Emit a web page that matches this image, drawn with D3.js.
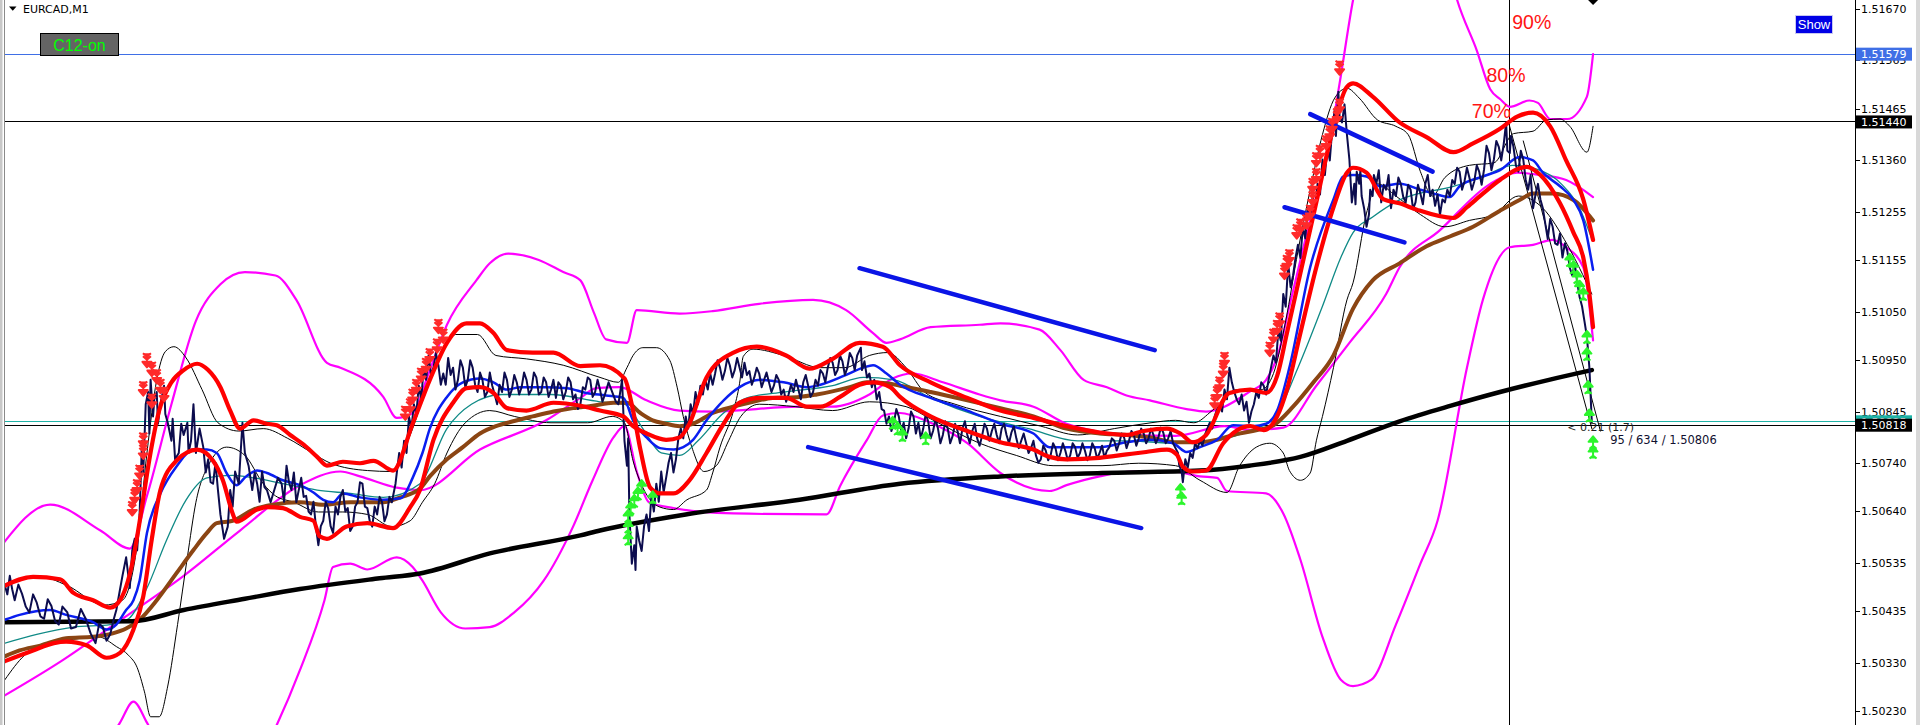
<!DOCTYPE html>
<html><head><meta charset="utf-8">
<script src="https://cdn.jsdelivr.net/npm/d3@7"></script>
<style>html,body{margin:0;padding:0;background:#fff;overflow:hidden}</style>
</head><body>
<svg id="c" width="1920" height="725"></svg>
<script>
// ---------------- DATA ----------------
const symbolTitle = "EURCAD,M1";
const yTickLabels = ["1.51670","1.51565","1.51465","1.51360","1.51255","1.51155","1.51050","1.50950","1.50845","1.50740","1.50640","1.50535","1.50435","1.50330","1.50230"];

// bars: [barIndex, price]
const priceSeries = [[4,1.50488],[6,1.50470],[8,1.50508],[10,1.50480],[12,1.50458],[15,1.50490],[18,1.50471],[21,1.50445],[24,1.50433],[27,1.50470],[30,1.50453],[33,1.50425],[36,1.50420],[39,1.50460],[42,1.50446],[45,1.50415],[48,1.50408],[51,1.50445],[55,1.50433],[58,1.50400],[62,1.50403],[66,1.50440],[70,1.50420],[74,1.50390],[78,1.50370],[81,1.50410],[84,1.50403],[87,1.50375],[90,1.50388],[93,1.50420],[95,1.50438],[98,1.50480],[100,1.50508],[103,1.50546],[106,1.50483],[108,1.50560],[110,1.50584],[112,1.50560],[114,1.50634],[116,1.50785],[117,1.50720],[119,1.50860],[121,1.50885],[122,1.50800],[123,1.50910],[125,1.50835],[126,1.50870],[128,1.50885],[129,1.50820],[131,1.50860],[134,1.50898],[135,1.50840],[137,1.50822],[140,1.50785],[141,1.50830],[143,1.50747],[146,1.50760],[148,1.50820],[150,1.50797],[153,1.50822],[154,1.50760],[156,1.50785],[158,1.50860],[160,1.50760],[163,1.50810],[166,1.50772],[168,1.50720],[170,1.50747],[172,1.50700],[174,1.50697],[176,1.50740],[178,1.50684],[180,1.50634],[183,1.50584],[186,1.50609],[188,1.50684],[190,1.50650],[192,1.50722],[195,1.50697],[198,1.50822],[200,1.50760],[203,1.50734],[206,1.50684],[208,1.50720],[210,1.50697],[212,1.50660],[214,1.50722],[216,1.50690],[218,1.50684],[221,1.50659],[224,1.50684],[227,1.50709],[230,1.50697],[232,1.50660],[234,1.50734],[236,1.50700],[238,1.50684],[240,1.50720],[242,1.50659],[246,1.50709],[248,1.50670],[250,1.50672],[252,1.50640],[254,1.50634],[256,1.50660],[258,1.50609],[260,1.50571],[262,1.50610],[264,1.50621],[266,1.50660],[268,1.50647],[270,1.50610],[272,1.50596],[274,1.50650],[276,1.50634],[278,1.50670],[280,1.50684],[282,1.50640],[284,1.50647],[286,1.50600],[288,1.50609],[290,1.50650],[292,1.50659],[294,1.50700],[296,1.50697],[298,1.50650],[300,1.50647],[302,1.50620],[304,1.50609],[306,1.50650],[308,1.50634],[310,1.50670],[312,1.50659],[314,1.50620],[316,1.50634],[318,1.50670],[320,1.50659],[323,1.50697],[326,1.50760],[328,1.50730],[330,1.50785],[332,1.50760],[334,1.50835],[336,1.50810],[338,1.50860],[340,1.50840],[342,1.50898],[344,1.50870],[346,1.50935],[348,1.50910],[350,1.50960],[352,1.50920],[354,1.50935],[356,1.50965],[358,1.50940],[360,1.50900],[362,1.50923],[364,1.50900],[366,1.50955],[368,1.50920],[370,1.50935],[372,1.50890],[374,1.50910],[376,1.50950],[378,1.50935],[380,1.50895],[382,1.50910],[384,1.50950],[386,1.50935],[388,1.50900],[390,1.50885],[392,1.50925],[394,1.50910],[396,1.50875],[398,1.50885],[400,1.50925],[402,1.50898],[404,1.50880],[406,1.50860],[408,1.50900],[410,1.50885],[412,1.50925],[414,1.50910],[416,1.50875],[418,1.50890],[420,1.50920],[422,1.50905],[424,1.50880],[426,1.50895],[428,1.50925],[430,1.50910],[432,1.50880],[434,1.50890],[436,1.50925],[438,1.50915],[440,1.50880],[442,1.50885],[444,1.50915],[446,1.50905],[448,1.50875],[450,1.50890],[452,1.50910],[454,1.50873],[456,1.50905],[458,1.50898],[460,1.50870],[462,1.50885],[464,1.50915],[466,1.50905],[468,1.50870],[470,1.50880],[472,1.50850],[474,1.50860],[476,1.50895],[478,1.50890],[480,1.50915],[482,1.50910],[484,1.50875],[486,1.50885],[488,1.50910],[490,1.50890],[492,1.50865],[494,1.50880],[497,1.50905],[500,1.50885],[503,1.50865],[505,1.50860],[508,1.50910],[510,1.50785],[512,1.50734],[513,1.50790],[514,1.50634],[516,1.50533],[518,1.50571],[519,1.50520],[520,1.50609],[522,1.50580],[524,1.50559],[526,1.50610],[528,1.50634],[530,1.50600],[532,1.50672],[534,1.50640],[536,1.50697],[538,1.50660],[540,1.50722],[542,1.50680],[544,1.50709],[546,1.50740],[548,1.50760],[550,1.50720],[552,1.50747],[554,1.50790],[556,1.50810],[558,1.50790],[560,1.50835],[562,1.50810],[564,1.50860],[566,1.50840],[568,1.50885],[570,1.50860],[572,1.50898],[574,1.50880],[576,1.50910],[578,1.50890],[580,1.50923],[582,1.50900],[584,1.50923],[586,1.50950],[588,1.50935],[590,1.50910],[592,1.50928],[594,1.50955],[596,1.50940],[598,1.50915],[600,1.50930],[602,1.50955],[604,1.50935],[606,1.50915],[608,1.50945],[610,1.50920],[612,1.50928],[614,1.50900],[616,1.50915],[618,1.50935],[620,1.50923],[622,1.50895],[624,1.50910],[626,1.50925],[628,1.50905],[630,1.50885],[632,1.50898],[634,1.50920],[636,1.50910],[638,1.50880],[640,1.50890],[642,1.50865],[644,1.50880],[646,1.50900],[648,1.50885],[650,1.50910],[652,1.50890],[654,1.50870],[656,1.50905],[658,1.50920],[660,1.50898],[662,1.50875],[664,1.50885],[666,1.50910],[668,1.50898],[670,1.50930],[672,1.50923],[674,1.50905],[676,1.50935],[678,1.50955],[680,1.50945],[682,1.50920],[684,1.50930],[686,1.50960],[688,1.50948],[690,1.50920],[692,1.50935],[694,1.50965],[696,1.50955],[698,1.50930],[700,1.50960],[703,1.50976],[704,1.50930],[706,1.50948],[708,1.50915],[710,1.50923],[712,1.50895],[714,1.50910],[716,1.50870],[718,1.50885],[720,1.50850],[722,1.50847],[724,1.50820],[726,1.50835],[728,1.50805],[730,1.50822],[732,1.50850],[734,1.50835],[736,1.50805],[738,1.50822],[740,1.50790],[742,1.50810],[744,1.50845],[746,1.50835],[748,1.50800],[750,1.50822],[752,1.50790],[754,1.50810],[756,1.50840],[758,1.50825],[760,1.50790],[762,1.50805],[764,1.50830],[766,1.50810],[768,1.50780],[770,1.50797],[772,1.50825],[774,1.50810],[776,1.50780],[778,1.50795],[780,1.50820],[782,1.50805],[784,1.50780],[786,1.50810],[788,1.50825],[790,1.50797],[792,1.50780],[794,1.50805],[796,1.50820],[798,1.50790],[800,1.50775],[802,1.50795],[804,1.50820],[806,1.50810],[808,1.50785],[810,1.50805],[812,1.50820],[814,1.50797],[816,1.50780],[818,1.50810],[820,1.50820],[822,1.50797],[824,1.50780],[826,1.50802],[828,1.50815],[830,1.50790],[832,1.50770],[834,1.50785],[836,1.50800],[838,1.50780],[840,1.50760],[842,1.50770],[844,1.50785],[846,1.50755],[848,1.50740],[850,1.50747],[852,1.50775],[854,1.50765],[856,1.50745],[858,1.50755],[860,1.50780],[862,1.50770],[864,1.50745],[866,1.50760],[868,1.50780],[870,1.50765],[872,1.50745],[874,1.50755],[876,1.50780],[878,1.50772],[880,1.50750],[882,1.50760],[884,1.50780],[886,1.50765],[888,1.50745],[890,1.50755],[892,1.50780],[894,1.50770],[896,1.50748],[898,1.50760],[900,1.50775],[902,1.50750],[904,1.50765],[906,1.50772],[908,1.50790],[910,1.50785],[912,1.50765],[914,1.50780],[916,1.50800],[918,1.50792],[920,1.50770],[922,1.50785],[924,1.50805],[926,1.50797],[928,1.50775],[930,1.50790],[932,1.50810],[934,1.50800],[936,1.50780],[938,1.50790],[940,1.50810],[942,1.50797],[944,1.50780],[946,1.50792],[948,1.50812],[950,1.50802],[952,1.50780],[954,1.50790],[956,1.50805],[958,1.50780],[960,1.50770],[962,1.50760],[963,1.50735],[965,1.50722],[966,1.50700],[968,1.50747],[970,1.50730],[972,1.50760],[974,1.50750],[976,1.50780],[978,1.50770],[980,1.50785],[982,1.50775],[984,1.50797],[986,1.50810],[988,1.50822],[990,1.50810],[992,1.50835],[994,1.50850],[996,1.50860],[998,1.50845],[1000,1.50890],[1002,1.50870],[1004,1.50935],[1006,1.50905],[1008,1.50885],[1010,1.50870],[1012,1.50860],[1014,1.50880],[1016,1.50847],[1018,1.50865],[1020,1.50822],[1022,1.50845],[1024,1.50860],[1026,1.50885],[1028,1.50873],[1030,1.50905],[1032,1.50898],[1034,1.50880],[1036,1.50910],[1038,1.50935],[1040,1.50960],[1042,1.50945],[1044,1.51011],[1046,1.50990],[1048,1.51086],[1050,1.51060],[1052,1.51149],[1054,1.51100],[1056,1.51124],[1058,1.51160],[1060,1.51187],[1062,1.51160],[1064,1.51224],[1066,1.51200],[1068,1.51262],[1070,1.51240],[1072,1.51287],[1074,1.51260],[1076,1.51312],[1078,1.51290],[1080,1.51362],[1082,1.51330],[1084,1.51388],[1086,1.51360],[1088,1.51425],[1090,1.51463],[1091,1.51410],[1093,1.51501],[1094,1.51450],[1096,1.51438],[1098,1.51475],[1100,1.51413],[1102,1.51362],[1104,1.51274],[1106,1.51312],[1107,1.51270],[1108,1.51337],[1110,1.51312],[1111,1.51340],[1112,1.51287],[1114,1.51262],[1116,1.51224],[1118,1.51249],[1119,1.51300],[1121,1.51287],[1122,1.51330],[1124,1.51312],[1126,1.51340],[1128,1.51274],[1130,1.51310],[1132,1.51300],[1134,1.51330],[1136,1.51262],[1138,1.51300],[1140,1.51287],[1142,1.51325],[1144,1.51312],[1146,1.51285],[1148,1.51274],[1150,1.51310],[1152,1.51300],[1154,1.51260],[1156,1.51274],[1158,1.51310],[1160,1.51292],[1162,1.51270],[1164,1.51312],[1166,1.51330],[1168,1.51287],[1170,1.51300],[1172,1.51267],[1174,1.51290],[1176,1.51249],[1178,1.51280],[1180,1.51274],[1182,1.51300],[1184,1.51287],[1186,1.51320],[1188,1.51312],[1190,1.51345],[1192,1.51337],[1194,1.51300],[1196,1.51317],[1198,1.51345],[1200,1.51325],[1202,1.51300],[1204,1.51317],[1206,1.51350],[1208,1.51337],[1210,1.51310],[1212,1.51342],[1214,1.51390],[1216,1.51375],[1218,1.51340],[1220,1.51362],[1222,1.51400],[1224,1.51388],[1226,1.51360],[1228,1.51393],[1230,1.51438],[1231,1.51380],[1233,1.51375],[1234,1.51410],[1236,1.51388],[1238,1.51350],[1240,1.51337],[1242,1.51380],[1244,1.51362],[1246,1.51320],[1248,1.51300],[1250,1.51330],[1252,1.51262],[1254,1.51290],[1256,1.51312],[1258,1.51280],[1260,1.51262],[1262,1.51230],[1264,1.51199],[1266,1.51240],[1268,1.51224],[1270,1.51190],[1272,1.51187],[1274,1.51210],[1276,1.51161],[1278,1.51190],[1280,1.51174],[1282,1.51140],[1284,1.51124],[1286,1.51150],[1288,1.51111],[1290,1.51080],[1292,1.51061],[1294,1.51030],[1296,1.50998],[1298,1.50935],[1300,1.50822]];

const maSlowBlack = [[4,1.50413],[108,1.50415],[150,1.50438],[200,1.50461],[245,1.50481],[310,1.50503],[343,1.50513],[400,1.50554],[474,1.50591],[490,1.50601],[560,1.50634],[653,1.50664],[735,1.50697],[817,1.50712],[900,1.50719],[980,1.50724],[1020,1.50734],[1062,1.50752],[1100,1.50785],[1143,1.50825],[1185,1.50857],[1225,1.50885],[1265,1.50910],[1300,1.50930]];

const maBrown = [[4,1.50343],[16,1.50355],[33,1.50365],[54,1.50380],[76,1.50383],[92,1.50390],[103,1.50400],[114,1.50418],[128,1.50458],[144,1.50513],[158,1.50561],[169,1.50596],[177,1.50616],[190,1.50621],[207,1.50644],[223,1.50654],[245,1.50659],[264,1.50654],[286,1.50659],[313,1.50659],[327,1.50669],[343,1.50687],[351,1.50712],[365,1.50747],[378,1.50772],[392,1.50800],[405,1.50815],[419,1.50825],[435,1.50835],[452,1.50845],[468,1.50852],[484,1.50857],[501,1.50863],[512,1.50863],[523,1.50842],[533,1.50827],[544,1.50820],[555,1.50815],[566,1.50820],[582,1.50842],[599,1.50855],[615,1.50865],[631,1.50873],[653,1.50875],[667,1.50880],[694,1.50895],[708,1.50905],[724,1.50903],[735,1.50898],[760,1.50885],[790,1.50868],[817,1.50852],[844,1.50835],[871,1.50810],[898,1.50800],[920,1.50797],[939,1.50792],[961,1.50782],[980,1.50782],[994,1.50787],[1007,1.50797],[1023,1.50805],[1040,1.50817],[1056,1.50855],[1072,1.50903],[1089,1.50960],[1105,1.51056],[1121,1.51114],[1143,1.51149],[1165,1.51184],[1184,1.51204],[1203,1.51224],[1225,1.51257],[1241,1.51279],[1252,1.51292],[1268,1.51292],[1285,1.51279],[1301,1.51237]];

const maBlue = [[4,1.50418],[16,1.50428],[41,1.50438],[54,1.50428],[76,1.50413],[87,1.50398],[95,1.50408],[103,1.50438],[109,1.50458],[114,1.50498],[120,1.50596],[131,1.50677],[144,1.50732],[158,1.50767],[169,1.50767],[177,1.50760],[185,1.50719],[193,1.50694],[201,1.50712],[210,1.50724],[218,1.50719],[231,1.50704],[245,1.50694],[256,1.50679],[264,1.50664],[272,1.50659],[280,1.50677],[294,1.50669],[313,1.50664],[327,1.50667],[337,1.50709],[345,1.50760],[351,1.50810],[365,1.50875],[378,1.50905],[392,1.50913],[403,1.50905],[414,1.50890],[425,1.50895],[446,1.50895],[463,1.50893],[479,1.50883],[495,1.50878],[509,1.50873],[517,1.50827],[528,1.50792],[539,1.50770],[550,1.50767],[558,1.50772],[566,1.50787],[577,1.50827],[591,1.50868],[604,1.50895],[621,1.50910],[640,1.50905],[659,1.50895],[670,1.50900],[689,1.50918],[705,1.50935],[713,1.50940],[724,1.50923],[735,1.50900],[760,1.50873],[790,1.50847],[817,1.50820],[844,1.50800],[857,1.50772],[898,1.50772],[920,1.50782],[939,1.50787],[958,1.50780],[969,1.50762],[980,1.50772],[994,1.50787],[1007,1.50817],[1023,1.50815],[1034,1.50820],[1043,1.50847],[1053,1.50935],[1070,1.51141],[1089,1.51280],[1097,1.51327],[1105,1.51330],[1116,1.51327],[1127,1.51307],[1143,1.51312],[1160,1.51300],[1171,1.51292],[1184,1.51285],[1192,1.51307],[1211,1.51327],[1225,1.51340],[1241,1.51367],[1252,1.51360],[1260,1.51335],[1274,1.51307],[1285,1.51279],[1293,1.51237],[1301,1.51136]];

const maTeal = [[4,1.50370],[30,1.50388],[60,1.50403],[90,1.50408],[105,1.50420],[120,1.50483],[136,1.50581],[152,1.50664],[169,1.50709],[190,1.50714],[207,1.50709],[231,1.50697],[259,1.50684],[286,1.50677],[313,1.50669],[343,1.50697],[365,1.50810],[385,1.50860],[410,1.50880],[450,1.50880],[490,1.50865],[510,1.50860],[525,1.50810],[540,1.50760],[555,1.50755],[570,1.50785],[590,1.50840],[610,1.50873],[640,1.50885],[680,1.50898],[705,1.50915],[730,1.50910],[760,1.50873],[800,1.50835],[840,1.50810],[880,1.50785],[920,1.50785],[960,1.50780],[990,1.50785],[1020,1.50805],[1040,1.50830],[1060,1.50935],[1080,1.51061],[1095,1.51161],[1105,1.51212],[1121,1.51244],[1143,1.51279],[1187,1.51307],[1210,1.51325],[1235,1.51350],[1255,1.51342],[1275,1.51312],[1290,1.51262],[1300,1.51199]];

const redBandX = [[4,1.50488],[27,1.50506],[49,1.50501],[60,1.50473],[76,1.50458],[90,1.50443],[98,1.50458],[108,1.50533],[115,1.50634],[122,1.50747],[130,1.50847],[140,1.50905],[150,1.50930],[161,1.50943],[170,1.50930],[180,1.50895],[188,1.50847],[196,1.50810],[207,1.50827],[218,1.50820],[226,1.50817],[237,1.50797],[248,1.50777],[259,1.50752],[267,1.50734],[280,1.50742],[294,1.50739],[305,1.50744],[321,1.50724],[337,1.50820],[351,1.50910],[365,1.50986],[381,1.51026],[392,1.51026],[403,1.51006],[414,1.50971],[435,1.50966],[452,1.50966],[474,1.50938],[490,1.50940],[510,1.50913],[517,1.50847],[523,1.50767],[531,1.50689],[539,1.50677],[550,1.50677],[563,1.50704],[577,1.50760],[591,1.50820],[604,1.50863],[621,1.50873],[642,1.50873],[659,1.50855],[670,1.50855],[686,1.50875],[702,1.50900],[713,1.50905],[727,1.50895],[735,1.50875],[760,1.50835],[790,1.50805],[817,1.50782],[844,1.50767],[857,1.50752],[871,1.50747],[898,1.50750],[920,1.50757],[936,1.50762],[953,1.50767],[961,1.50757],[966,1.50732],[974,1.50722],[985,1.50724],[999,1.50780],[1021,1.50815],[1032,1.50807],[1043,1.50835],[1051,1.50890],[1062,1.51006],[1075,1.51141],[1089,1.51264],[1100,1.51335],[1105,1.51345],[1116,1.51335],[1130,1.51280],[1143,1.51272],[1157,1.51259],[1187,1.51242],[1198,1.51264],[1211,1.51292],[1225,1.51320],[1247,1.51347],[1258,1.51330],[1274,1.51272],[1285,1.51212],[1293,1.51161],[1298,1.51086],[1301,1.51018]];

const redBandY = [[4,1.50333],[27,1.50355],[44,1.50370],[54,1.50373],[71,1.50365],[87,1.50340],[98,1.50350],[109,1.50398],[117,1.50466],[124,1.50584],[131,1.50684],[144,1.50744],[161,1.50767],[174,1.50744],[182,1.50704],[190,1.50636],[193,1.50619],[210,1.50644],[218,1.50649],[231,1.50647],[245,1.50629],[256,1.50621],[261,1.50589],[267,1.50584],[283,1.50609],[300,1.50616],[321,1.50606],[335,1.50649],[343,1.50684],[354,1.50787],[370,1.50863],[381,1.50893],[392,1.50895],[403,1.50883],[414,1.50852],[430,1.50847],[452,1.50863],[474,1.50857],[490,1.50847],[509,1.50835],[517,1.50815],[528,1.50800],[544,1.50787],[555,1.50792],[563,1.50820],[577,1.50915],[599,1.50966],[618,1.50978],[642,1.50960],[661,1.50933],[680,1.50953],[702,1.50986],[721,1.50978],[735,1.50940],[760,1.50905],[790,1.50873],[817,1.50847],[844,1.50832],[871,1.50815],[898,1.50802],[920,1.50797],[934,1.50805],[953,1.50810],[964,1.50800],[974,1.50782],[985,1.50797],[1004,1.50883],[1021,1.50890],[1034,1.50883],[1043,1.50918],[1051,1.51006],[1062,1.51129],[1075,1.51274],[1090,1.51438],[1100,1.51511],[1105,1.51518],[1121,1.51491],[1143,1.51438],[1165,1.51408],[1187,1.51377],[1203,1.51395],[1225,1.51425],[1239,1.51450],[1252,1.51458],[1266,1.51430],[1279,1.51360],[1293,1.51280],[1301,1.51197]];

const bandMagentaUpper = [[0,1.50566],[41,1.50654],[82,1.50601],[106,1.50564],[120,1.50672],[140,1.50860],[160,1.51031],[180,1.51106],[200,1.51131],[225,1.51124],[242,1.51074],[267,1.50945],[278,1.50935],[313,1.50875],[324,1.50832],[337,1.50842],[350,1.50923],[365,1.51023],[389,1.51114],[400,1.51149],[415,1.51169],[440,1.51156],[460,1.51131],[474,1.51114],[485,1.51048],[495,1.50993],[512,1.50986],[520,1.51053],[555,1.51046],[582,1.51051],[620,1.51066],[664,1.51074],[691,1.51053],[713,1.51006],[724,1.50986],[735,1.50993],[760,1.51018],[800,1.51023],[817,1.51026],[849,1.51013],[866,1.50971],[885,1.50910],[904,1.50895],[920,1.50878],[939,1.50868],[969,1.50850],[985,1.50845],[1000,1.50855],[1020,1.50885],[1034,1.50910],[1045,1.50973],[1053,1.51061],[1065,1.51187],[1075,1.51287],[1083,1.51360],[1094,1.51518],[1105,1.51689],[1120,1.51840],[1150,1.51940],[1175,1.51840],[1190,1.51689],[1206,1.51586],[1217,1.51506],[1225,1.51486],[1233,1.51470],[1249,1.51483],[1256,1.51478],[1266,1.51445],[1280,1.51445],[1296,1.51491],[1301,1.51578]];

const bandMagentaInner = [[0,1.50257],[50,1.50333],[100,1.50420],[150,1.50508],[196,1.50601],[245,1.50694],[278,1.50722],[294,1.50712],[324,1.50689],[343,1.50684],[392,1.50767],[446,1.50827],[474,1.50873],[487,1.50893],[506,1.50895],[528,1.50868],[555,1.50847],[582,1.50845],[653,1.50855],[680,1.50855],[710,1.50880],[729,1.50913],[745,1.50923],[770,1.50905],[800,1.50880],[817,1.50868],[844,1.50855],[871,1.50820],[885,1.50810],[920,1.50797],[960,1.50795],[1000,1.50815],[1021,1.50807],[1048,1.50812],[1075,1.50898],[1102,1.50986],[1132,1.51086],[1143,1.51141],[1176,1.51217],[1217,1.51312],[1239,1.51335],[1258,1.51330],[1279,1.51320],[1301,1.51285]];

const bandMagentaLower = [[80,1.50132],[98,1.50207],[109,1.50250],[120,1.50207],[135,1.50132],[200,1.50081],[226,1.50202],[245,1.50315],[265,1.50458],[272,1.50526],[286,1.50533],[300,1.50521],[324,1.50546],[337,1.50526],[345,1.50498],[360,1.50433],[380,1.50400],[400,1.50403],[420,1.50433],[444,1.50498],[468,1.50609],[484,1.50704],[501,1.50792],[510,1.50815],[520,1.50722],[530,1.50659],[550,1.50647],[599,1.50636],[675,1.50634],[686,1.50692],[708,1.50787],[721,1.50837],[735,1.50842],[760,1.50822],[790,1.50780],[817,1.50719],[857,1.50682],[871,1.50694],[898,1.50712],[925,1.50722],[958,1.50722],[980,1.50712],[994,1.50709],[1002,1.50682],[1034,1.50677],[1048,1.50636],[1062,1.50541],[1080,1.50383],[1095,1.50295],[1105,1.50282],[1120,1.50295],[1140,1.50408],[1160,1.50533],[1174,1.50621],[1198,1.50935],[1211,1.51074],[1233,1.51182],[1252,1.51187],[1268,1.51197],[1279,1.51182],[1293,1.51141],[1301,1.50991]];

const envThinA = [[4,1.50488],[30,1.50508],[55,1.50488],[85,1.50448],[100,1.50458],[112,1.50571],[120,1.50760],[128,1.50910],[135,1.50968],[142,1.50978],[152,1.50955],[165,1.50890],[178,1.50822],[195,1.50805],[215,1.50810],[235,1.50790],[255,1.50760],[270,1.50739],[300,1.50724],[320,1.50722],[335,1.50797],[348,1.50890],[360,1.50960],[372,1.51003],[390,1.51003],[405,1.50960],[430,1.50953],[460,1.50940],[490,1.50915],[505,1.50905],[512,1.50935],[517,1.50960],[525,1.50976],[536,1.50976],[547,1.50950],[553,1.50895],[558,1.50835],[565,1.50772],[575,1.50722],[585,1.50734],[595,1.50785],[605,1.50835],[620,1.50860],[650,1.50855],[680,1.50847],[710,1.50865],[740,1.50855],[760,1.50830],[800,1.50780],[830,1.50755],[860,1.50734],[900,1.50734],[930,1.50739],[960,1.50734],[980,1.50704],[1002,1.50679],[1012,1.50732],[1026,1.50772],[1037,1.50780],[1048,1.50760],[1053,1.50724],[1062,1.50704],[1070,1.50719],[1075,1.50785],[1080,1.50835],[1089,1.50935],[1100,1.51074],[1105,1.51109],[1116,1.51252],[1125,1.51312],[1140,1.51287],[1160,1.51249],[1180,1.51224],[1200,1.51237],[1220,1.51249],[1240,1.51287],[1260,1.51262],[1280,1.51187],[1300,1.51086]];

const envThinB = [[4,1.50295],[20,1.50345],[40,1.50370],[60,1.50378],[80,1.50383],[95,1.50363],[105,1.50345],[112,1.50320],[118,1.50270],[123,1.50219],[130,1.50219],[137,1.50282],[145,1.50408],[153,1.50546],[160,1.50659],[170,1.50734],[185,1.50772],[200,1.50755],[215,1.50697],[225,1.50672],[240,1.50659],[260,1.50639],[280,1.50639],[300,1.50634],[320,1.50609],[335,1.50621],[345,1.50659],[355,1.50697],[365,1.50760],[380,1.50822],[400,1.50847],[420,1.50835],[450,1.50822],[480,1.50822],[500,1.50835],[510,1.50822],[517,1.50744],[525,1.50689],[539,1.50649],[550,1.50644],[561,1.50664],[577,1.50684],[582,1.50719],[588,1.50772],[599,1.50847],[604,1.50903],[607,1.50958],[615,1.50973],[640,1.50960],[670,1.50935],[690,1.50935],[710,1.50960],[725,1.50966],[740,1.50935],[755,1.50885],[780,1.50860],[817,1.50835],[850,1.50815],[880,1.50797],[910,1.50810],[940,1.50822],[960,1.50827],[975,1.50822],[990,1.50847],[1010,1.50890],[1030,1.50890],[1040,1.50923],[1050,1.51031],[1060,1.51174],[1070,1.51300],[1080,1.51413],[1090,1.51488],[1100,1.51508],[1110,1.51488],[1125,1.51443],[1140,1.51430],[1150,1.51413],[1160,1.51337],[1170,1.51287],[1180,1.51325],[1200,1.51350],[1220,1.51355],[1236,1.51415],[1252,1.51420],[1263,1.51443],[1274,1.51445],[1282,1.51430],[1296,1.51377],[1301,1.51430]];

const zigzagSegments = [[[1232,1.51438],[1300,1.50810]],[[1244,1.51400],[1307,1.50805]]];
const trendLines = [[[1070,1.51455],[1170,1.51337]],[[1049,1.51264],[1147,1.51192]],[[702,1.51139],[943,1.50971]],[[660,1.50772],[932,1.50606]]];

const sellArrows = [[120,1.50948],[124,1.50930],[128,1.50915],[131,1.50895],[134,1.50878],[124,1.50865],[117,1.50890],[117,1.50785],[117,1.50760],[114,1.50719],[112,1.50689],[110,1.50669],[108,1.50644],[358,1.51018],[362,1.50998],[357,1.50978],[351,1.50958],[348,1.50938],[344,1.50918],[340,1.50895],[337,1.50875],[335,1.50855],[331,1.50840],[1094,1.51548],[1094,1.51470],[1092,1.51450],[1088,1.51430],[1086,1.51415],[1083,1.51395],[1078,1.51375],[1075,1.51360],[1075,1.51327],[1072,1.51307],[1072,1.51280],[1070,1.51252],[1067,1.51232],[1062,1.51224],[1059,1.51212],[1053,1.51161],[1051,1.51149],[1049,1.51129],[1045,1.51031],[1043,1.51016],[1040,1.50998],[1037,1.50971],[1000,1.50950],[999,1.50928],[996,1.50900],[994,1.50880],[992,1.50863]];
const buyArrows = [[524,1.50692],[521,1.50677],[518,1.50662],[515,1.50647],[513,1.50631],[513,1.50609],[513,1.50584],[533,1.50669],[729,1.50822],[733,1.50810],[737,1.50797],[756,1.50790],[964,1.50684],[965,1.50667],[1282,1.51156],[1285,1.51141],[1288,1.51121],[1290,1.51101],[1293,1.51086],[1296,1.50998],[1296,1.50963],[1297,1.50895],[1298,1.50837],[1301,1.50782],[1301,1.50762]];

const levelValues = [1.51579, 1.51440, 1.50825, 1.50818];
const levelColors = ["#3f6fe6", "#000000", "#1fb3a6", "#000000"];
const markerBar = 1232;
const percentLabels = [["90%",1235,1.51629],["80%",1214,1.51521],["70%",1202,1.51447]];
const infoTexts = [["< 0.21 (1.7)",1280,1.50806],["95 / 634 / 1.50806",1315,1.50779]];
const topDiamond = [1301, 1.51689];

// ---------------- CHART ----------------
const W = 1920, H = 725, plotL = 5, plotR = 1855;
const svg = d3.select("#c");
const x = d3.scaleLinear().domain([0, 1568]).range([0, 1920]);
const y = d3.scaleLinear().domain([1.50230, 1.51670]).range([711.4, 9.3]);

svg.append("rect").attr("width", W).attr("height", H).attr("fill", "#ffffff");
svg.append("defs").append("clipPath").attr("id", "plot")
  .append("rect").attr("x", plotL).attr("y", 0).attr("width", plotR - plotL).attr("height", H);

const g = svg.append("g").attr("clip-path", "url(#plot)");

levelValues.forEach((v, i) => {
  g.append("line").attr("x1", plotL).attr("x2", plotR)
    .attr("y1", Math.round(y(v)) + 0.5).attr("y2", Math.round(y(v)) + 0.5)
    .attr("stroke", levelColors[i]).attr("stroke-width", 1);
});
g.append("line").attr("x1", Math.round(x(markerBar)) + 0.5).attr("x2", Math.round(x(markerBar)) + 0.5)
  .attr("y1", 0).attr("y2", H).attr("stroke", "#000").attr("stroke-width", 1);

function drawLine(data, color, width, curve) {
  g.append("path").datum(data)
    .attr("d", d3.line().x(d => x(d[0])).y(d => y(d[1])).curve(curve || d3.curveMonotoneX))
    .attr("fill", "none").attr("stroke", color).attr("stroke-width", width)
    .attr("stroke-linejoin", "round").attr("stroke-linecap", "round");
}

drawLine(bandMagentaUpper, "#ff00ff", 2.2);
drawLine(bandMagentaInner, "#ff00ff", 2.2);
drawLine(bandMagentaLower, "#ff00ff", 2.2);
drawLine(envThinA, "#000000", 1);
drawLine(envThinB, "#000000", 1);
zigzagSegments.forEach(s => drawLine(s, "#000000", 1, d3.curveLinear));
drawLine(maTeal, "#0f8a86", 1.3);
drawLine(maBrown, "#8b4513", 4);
drawLine(maSlowBlack, "#000000", 4.5);
drawLine(maBlue, "#0a1ef0", 2.5);
drawLine(priceSeries, "#0c0c4e", 2, d3.curveLinear);
drawLine(redBandY, "#ff0000", 4.2);
drawLine(redBandX, "#ff0000", 4.2);
trendLines.forEach(s => drawLine(s, "#0a14e6", 4.5, d3.curveLinear));

// arrows (fletched glyphs)
const downPath = "M0,-7V4M-4.5,0.5L0,6L4.5,0.5ZM-4,-8L0,-4.5L4,-8M-4,-5L0,-1.5L4,-5";
const upPath = "M0,6V-3M-4.5,-0.5L0,-6L4.5,-0.5ZM-3.5,6.5L0,3.5L3.5,6.5";
g.selectAll(".sell").data(sellArrows).enter().append("path")
  .attr("d", downPath).attr("transform", d => `translate(${x(d[0])},${y(d[1])})`)
  .attr("fill", "#ff2a2a").attr("stroke", "#ff2a2a").attr("stroke-width", 2).attr("stroke-linejoin", "round");
g.selectAll(".buy").data(buyArrows).enter().append("path")
  .attr("d", upPath).attr("transform", d => `translate(${x(d[0])},${y(d[1])})`)
  .attr("fill", "#2cf52c").attr("stroke", "#2cf52c").attr("stroke-width", 2).attr("stroke-linejoin", "round");

g.append("path").attr("d", "M0,-5L5,0L0,5L-5,0Z")
  .attr("transform", `translate(${x(topDiamond[0])},${y(topDiamond[1])})`).attr("fill", "#000");

percentLabels.forEach(p => {
  g.append("text").attr("x", x(p[1])).attr("y", y(p[2])).text(p[0])
    .attr("font-family", "Liberation Sans, Arial, sans-serif").attr("font-size", 19.5).attr("fill", "#ff1414");
});
infoTexts.forEach((p, i) => {
  g.append("text").attr("x", x(p[1])).attr("y", y(p[2])).text(p[0])
    .attr("font-family", "DejaVu Sans, sans-serif").attr("font-size", i === 0 ? 11 : 11.5).attr("fill", i === 0 ? "#222" : "#101030");
});

// ---------------- AXIS ----------------
svg.append("line").attr("x1", plotR + 0.5).attr("x2", plotR + 0.5).attr("y1", 0).attr("y2", H).attr("stroke", "#000");
yTickLabels.forEach(t => {
  const v = +t, yy = Math.round(y(v)) + 0.5;
  svg.append("line").attr("x1", plotR).attr("x2", plotR + 5).attr("y1", yy).attr("y2", yy).attr("stroke", "#000");
  svg.append("text").attr("x", plotR + 6).attr("y", yy).attr("dy", "0.35em").text(t)
    .attr("font-family", "DejaVu Sans, sans-serif").attr("font-size", 11).attr("fill", "#000");
});
const levelLabelText = levelValues.map(v => v.toFixed(5));
levelValues.forEach((v, i) => {
  const yy = y(v);
  svg.append("rect").attr("x", plotR + 1).attr("y", yy - 6).attr("width", 56).attr("height", 13).attr("fill", levelColors[i]);
  svg.append("text").attr("x", plotR + 6).attr("y", yy + 0.5).attr("dy", "0.35em").text(levelLabelText[i])
    .attr("font-family", "DejaVu Sans, sans-serif").attr("font-size", 11).attr("fill", "#fff");
});

svg.append("rect").attr("x", 0).attr("y", 0).attr("width", 2.5).attr("height", H).attr("fill", "#c8c8c8");
svg.append("line").attr("x1", 4.5).attr("x2", 4.5).attr("y1", 0).attr("y2", H).attr("stroke", "#8a8a8a");
svg.append("rect").attr("x", 1916).attr("y", 0).attr("width", 4).attr("height", H).attr("fill", "#d8d8d8");

svg.append("path").attr("d", "M9,6.5L16.5,6.5L12.75,10.8Z").attr("fill", "#000");
svg.append("text").attr("x", 23).attr("y", 12.5).text(symbolTitle)
  .attr("font-family", "DejaVu Sans, sans-serif").attr("font-size", 11).attr("fill", "#000");

svg.append("rect").attr("x", 40.5).attr("y", 33.5).attr("width", 78).attr("height", 22).attr("fill", "#646464").attr("stroke", "#000");
svg.append("text").attr("x", 79.5).attr("y", 50.5).attr("text-anchor", "middle").text("C12-on")
  .attr("font-family", "Liberation Sans, Arial, sans-serif").attr("font-size", 16).attr("fill", "#00ff00");

svg.append("rect").attr("x", 1795.5).attr("y", 15.5).attr("width", 37).attr("height", 18).attr("fill", "#0000e6").attr("stroke", "#c8c8f0");
svg.append("text").attr("x", 1814).attr("y", 29).attr("text-anchor", "middle").text("Show")
  .attr("font-family", "Liberation Sans, Arial, sans-serif").attr("font-size", 13).attr("fill", "#fff");
</script>
</body></html>
